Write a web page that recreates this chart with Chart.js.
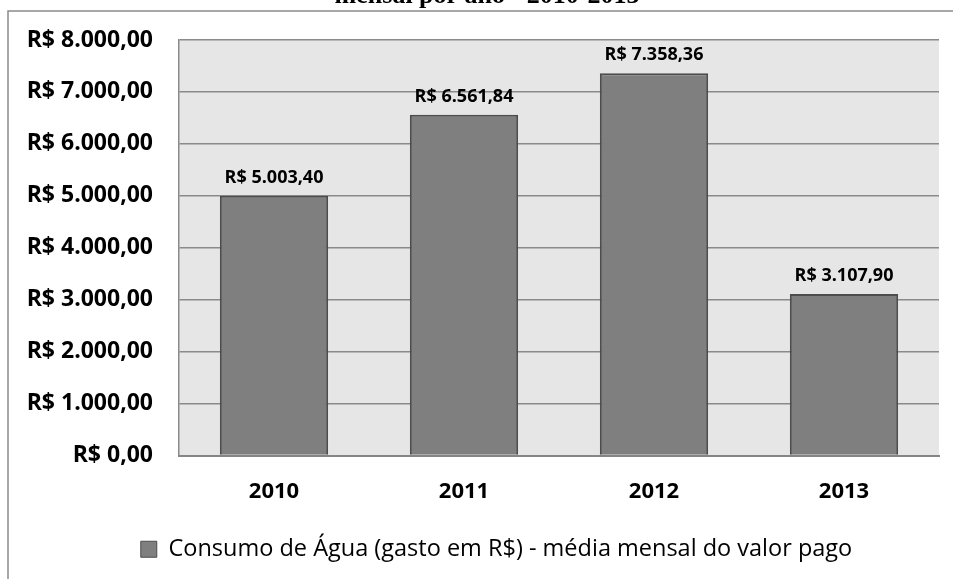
<!DOCTYPE html>
<html>
<head>
<meta charset="utf-8">
<script src="https://cdn.jsdelivr.net/npm/chart.js@4"></script>
<style>
  html, body { margin: 0; padding: 0; background: #fff; }
  #wrap { width: 953px; height: 579px; position: relative; }
</style>
</head>
<body>
<div id="wrap"><canvas id="myChart"></canvas></div>
<script>
const years = ['2010', '2011', '2012', '2013'];
const gastoMedio = [5003.40, 6561.84, 7358.36, 3107.90];
const serieLabel = 'Consumo de Água (gasto em R$) - média mensal do valor pago';
const tituloCortado = 'mensal por ano - 2010-2013';

// formato brasileiro: R$ 1.234,56
function reais(v) {
  const parts = v.toFixed(2).split('.');
  const inteiro = parts[0].replace(/\B(?=(\d{3})+(?!\d))/g, '.');
  return 'R$ ' + inteiro + ',' + parts[1];
}

const frame = {
  id: 'frame',
  afterLayout(chart) {
    // legenda um pouco deslocada para a direita, como no original
    chart.legend.left += 27;
    chart.legend.right += 27;
  },
  beforeDraw(chart) {
    const { ctx, chartArea } = chart;
    ctx.save();
    // fundo da área de plotagem
    ctx.fillStyle = '#e6e6e6';
    ctx.fillRect(chartArea.left, chartArea.top, chartArea.right - chartArea.left, chartArea.bottom - chartArea.top);
    // moldura externa (só topo e lado esquerdo visíveis)
    ctx.strokeStyle = '#8a8a8a';
    ctx.lineWidth = 1.5;
    ctx.beginPath();
    ctx.moveTo(8, chart.height);
    ctx.lineTo(8, 11);
    ctx.lineTo(chart.width, 11);
    ctx.stroke();
    // titulo cortado no topo
    ctx.fillStyle = '#000';
    ctx.font = 'bold 26px "Liberation Serif", serif';
    ctx.textAlign = 'center';
    ctx.textBaseline = 'alphabetic';
    ctx.fillText(tituloCortado, 487, 3);
    ctx.restore();
  },
  afterDatasetsDraw(chart) {
    const { ctx } = chart;
    const meta = chart.getDatasetMeta(0);
    ctx.save();
    ctx.fillStyle = '#000';
    ctx.font = 'bold 18px "Open Sans", sans-serif';
    ctx.textAlign = 'center';
    ctx.textBaseline = 'alphabetic';
    meta.data.forEach((bar, i) => {
      ctx.fillText(reais(chart.data.datasets[0].data[i]), bar.x, bar.y - 13);
    });
    ctx.restore();
  }
};

window.addEventListener('DOMContentLoaded', () => {
  const ctx = document.getElementById('myChart').getContext('2d');
  new Chart(ctx, {
    type: 'bar',
    data: {
      labels: years,
      datasets: [{
        label: serieLabel,
        data: gastoMedio,
        backgroundColor: '#7f7f7f',
        borderColor: '#4d4d4d',
        borderWidth: 2,
        borderSkipped: 'bottom',
        barPercentage: 0.57,
        categoryPercentage: 1
      }]
    },
    options: {
      responsive: true,
      maintainAspectRatio: false,
      animation: false,
      layout: { padding: { top: 40, right: 14, bottom: 8, left: 0 } },
      plugins: {
        title: { display: false },
        tooltip: { enabled: false },
        legend: {
          position: 'bottom',
          labels: {
            color: '#000',
            font: { family: '"Open Sans", sans-serif', size: 23.5 },
            boxWidth: 16,
            boxHeight: 16,
            padding: 10,
            generateLabels(chart) {
              return [{
                text: serieLabel,
                fillStyle: '#7f7f7f',
                strokeStyle: '#4d4d4d',
                lineWidth: 1,
                fontColor: '#000',
                datasetIndex: 0
              }];
            }
          }
        }
      },
      scales: {
        x: {
          grid: { display: false, drawTicks: false },
          border: { display: true, color: '#858585', width: 2 },
          ticks: {
            color: '#000',
            padding: 23,
            font: { family: '"Open Sans", sans-serif', size: 22, weight: 'bold' }
          },
          afterFit(scale) { scale.height = 72; }
        },
        y: {
          min: 0,
          max: 8000,
          grid: { color: '#8a8a8a', lineWidth: 1.5, drawTicks: false },
          border: { display: true, color: '#8a8a8a', width: 1.5 },
          ticks: {
            stepSize: 1000,
            color: '#000',
            padding: 26,
            font: { family: '"Open Sans", sans-serif', size: 23, weight: 'bold' },
            callback: v => reais(v)
          },
          afterFit(scale) { scale.width = 179; }
        }
      }
    },
    plugins: [frame]
  });
});
</script>
</body>
</html>
